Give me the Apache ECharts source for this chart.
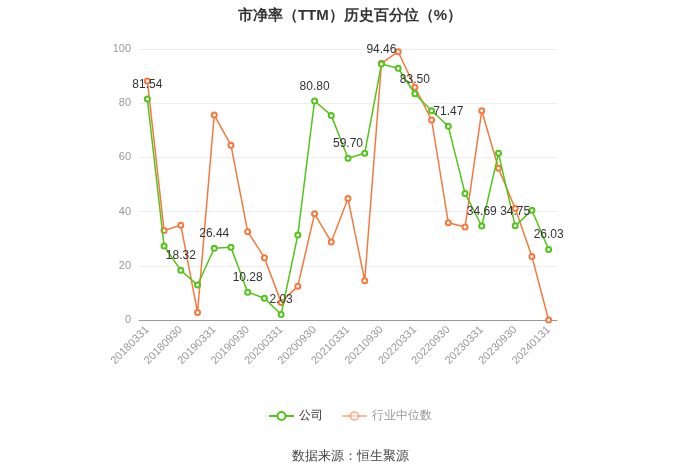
<!DOCTYPE html>
<html>
<head>
<meta charset="utf-8">
<script src="https://cdn.jsdelivr.net/npm/echarts@6/dist/echarts.min.js"></script>
<style>
  html, body { margin: 0; padding: 0; background: #fff; }
  #main { width: 700px; height: 474px; }
</style>
</head>
<body>
<div id="main"></div>
<script>
var dates = ['20180331', '20180630', '20180930', '20181231',
  '20190331', '20190630', '20190930', '20191231',
  '20200331', '20200630', '20200930', '20201231',
  '20210331', '20210630', '20210930', '20211231',
  '20220331', '20220630', '20220930', '20221231',
  '20230331', '20230630', '20230930', '20231231',
  '20240131'];
var company = [81.54, 27.3, 18.32, 12.9, 26.44, 26.8, 10.28, 8.0, 2.03, 31.4,
  80.80, 75.5, 59.70, 61.5, 94.46, 92.9, 83.50, 77.2, 71.47, 46.7,
  34.69, 61.5, 34.75, 40.5, 26.03];
var industry = [88.2, 33.0, 35.0, 2.8, 75.6, 64.5, 32.6, 23.0, 6.5, 12.5,
  39.2, 28.8, 44.8, 14.5, 94.7, 99.0, 85.9, 73.8, 35.9, 34.3,
  77.2, 56.0, 41.1, 23.4, 0];

var chartDom = document.getElementById('main');
var myChart = echarts.init(chartDom);
var option;

option = {
  animation: false,
  title: {
    text: '市净率（TTM）历史百分位（%）',
    left: 'center',
    top: 3,
    textStyle: { fontSize: 15, fontWeight: 'bold', color: '#333' }
  },
  graphic: [{
    type: 'text',
    left: 'center',
    top: 450,
    style: { text: '数据来源：恒生聚源', fontSize: 13, fill: '#444' }
  }],
  legend: {
    bottom: 47,
    left: 'center',
    itemWidth: 25,
    itemHeight: 10,
    itemGap: 18,
    textStyle: { fontSize: 12, color: '#333' },
    data: [
      { name: '公司' },
      { name: '行业中位数', itemStyle: { opacity: 0.5 }, lineStyle: { opacity: 0.5 }, textStyle: { color: '#999' } }
    ]
  },
  grid: { left: 139, right: 143, top: 49, bottom: 154 },
  xAxis: {
    type: 'category',
    data: dates,
    boundaryGap: true,
    axisLine: { lineStyle: { color: '#999' } },
    axisTick: { alignWithLabel: true, interval: 1, lineStyle: { color: '#999' } },
    axisLabel: { interval: 1, rotate: 45, color: '#999', fontSize: 11 }
  },
  yAxis: {
    type: 'value',
    min: 0,
    max: 100,
    interval: 20,
    axisLabel: { color: '#999', fontSize: 11 },
    splitLine: { lineStyle: { color: '#eee' } }
  },
  series: [
    {
      name: '公司',
      type: 'line',
      data: company,
      symbol: 'emptyCircle',
      symbolSize: 5,
      color: '#52c41a',
      lineStyle: { width: 1.5 },
      z: 3,
      label: {
        show: true,
        position: 'top',
        color: '#333',
        fontSize: 12,
        formatter: function (p) {
          return p.dataIndex % 2 === 0 ? p.value.toFixed(2) : '';
        }
      }
    },
    {
      name: '行业中位数',
      type: 'line',
      data: industry,
      symbol: 'emptyCircle',
      symbolSize: 5,
      color: '#f5793f',
      lineStyle: { width: 1.5 },
      z: 2
    }
  ]
};

option && myChart.setOption(option);
</script>
</body>
</html>
